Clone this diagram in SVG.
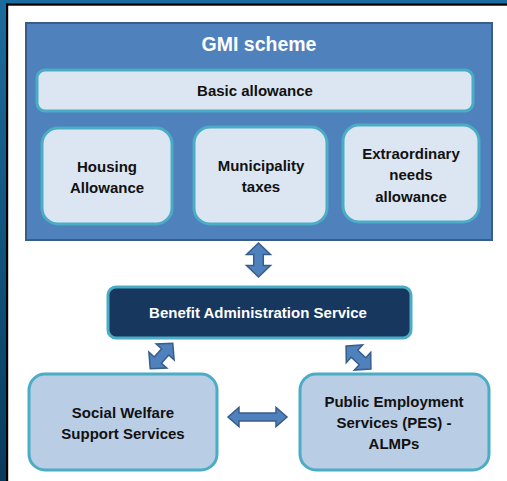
<svg xmlns="http://www.w3.org/2000/svg" width="507" height="481" viewBox="0 0 507 481">
<defs>
<linearGradient id="side" x1="0" y1="0" x2="0" y2="1">
<stop offset="0" stop-color="#1B6C9E"/>
<stop offset="1" stop-color="#083B5C"/>
</linearGradient>
<path id="dbl" d="M-17,0 L-5.5,-12 L-5.5,-4.8 L5.5,-4.8 L5.5,-12 L17,0 L5.5,12 L5.5,4.8 L-5.5,4.8 L-5.5,12 Z"/>
<style>
.t{font-family:"Liberation Sans",Arial,sans-serif;font-weight:bold;text-anchor:middle;}
.dk{fill:#111111;font-size:15px;}
.wh{fill:#ffffff;}
.inner{fill:#DCE6F2;stroke:#4BACC6;stroke-width:3;}
.low{fill:#B9CDE5;stroke:#4BACC6;stroke-width:3;}
.arr{fill:#4F81BD;stroke:#385D8A;stroke-width:1.5;stroke-linejoin:miter;}
</style>
</defs>
<rect x="0" y="0" width="507" height="481" fill="#ffffff"/>
<rect x="0" y="0" width="507" height="4" fill="#1B6C9E"/>
<rect x="0" y="0" width="6" height="481" fill="url(#side)"/>
<rect x="6" y="3.5" width="501" height="2.2" fill="#000000"/>
<rect x="6" y="3.5" width="2.2" height="477.5" fill="#000000"/>

<g id="gmi">
<rect x="26" y="23" width="466" height="217" fill="#4F81BD" stroke="#385D8A" stroke-width="2"/>
<text class="t wh" x="259" y="51" font-size="19.5">GMI scheme</text>
</g>
<g id="basic">
<rect class="inner" x="37" y="70" width="436" height="41" rx="8"/>
<text class="t dk" x="255" y="96" font-size="14.5">Basic allowance</text>
</g>
<g id="housing">
<rect class="inner" x="42" y="128" width="130" height="96" rx="16"/>
<text class="t dk" x="107" y="172">Housing</text>
<text class="t dk" x="107" y="193">Allowance</text>
</g>
<g id="municipality">
<rect class="inner" x="194" y="127" width="133" height="97" rx="16"/>
<text class="t dk" x="261" y="171">Municipality</text>
<text class="t dk" x="261" y="192">taxes</text>
</g>
<g id="extraordinary">
<rect class="inner" x="343" y="125" width="136" height="97" rx="16"/>
<text class="t dk" x="411" y="159">Extraordinary</text>
<text class="t dk" x="411" y="180">needs</text>
<text class="t dk" x="411" y="202">allowance</text>
</g>
<g id="benefit">
<rect x="108" y="287" width="303" height="51" rx="8" fill="#17375E" stroke="#4BACC6" stroke-width="3"/>
<text class="t wh" x="258" y="318" font-size="15">Benefit Administration Service</text>
</g>
<g id="social">
<rect class="low" x="29" y="374" width="188" height="96" rx="16"/>
<text class="t dk" x="123" y="418">Social Welfare</text>
<text class="t dk" x="123" y="439">Support Services</text>
</g>
<g id="pes">
<rect class="low" x="300" y="374" width="189" height="96" rx="16"/>
<text class="t dk" x="394" y="407">Public Employment</text>
<text class="t dk" x="394" y="428">Services (PES) -</text>
<text class="t dk" x="394" y="449">ALMPs</text>
</g>

<g id="connectors">
<use href="#dbl" class="arr" transform="translate(258.5,260) rotate(90)"/>
<use href="#dbl" class="arr" transform="translate(161.5,356) rotate(-48.5)"/>
<use href="#dbl" class="arr" transform="translate(358.5,357.5) rotate(43)"/>
<path class="arr" d="M228,417 L239,407.5 L239,413 L276,413 L276,407.5 L287,417 L276,426.5 L276,421 L239,421 L239,426.5 Z"/>
</g>
</svg>
